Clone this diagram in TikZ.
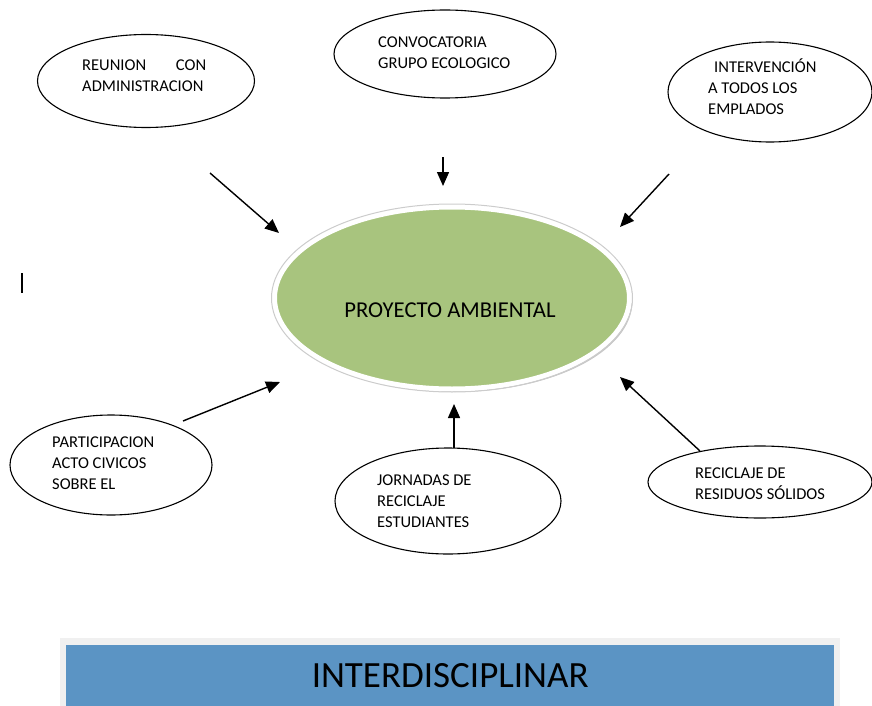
\documentclass[tikz,border=0pt]{standalone}
\usepackage{fontspec}
\setmainfont{Carlito}
\usetikzlibrary{shapes,shadows,arrows.meta}

\definecolor{verdeproy}{HTML}{A8C47E}
\definecolor{azulbarra}{HTML}{5B94C4}
\definecolor{grisbarra}{HTML}{F0F0F0}

\tikzset{
  burbuja/.style={draw, ellipse, line width=1.1pt, inner sep=0pt},
  texto/.style={anchor=north west, inner sep=0pt, align=left, font=\fontsize{16.5}{21}\selectfont},
  flecha/.style={line width=1.4pt, -{Triangle[length=14pt,width=12pt]}}
}

\begin{document}
\begin{tikzpicture}[x=1pt,y=-1pt]
    \useasboundingbox (0,0) rectangle (872,706);

    % ideas de arriba
    \node[burbuja, minimum width=217pt, minimum height=93pt] (reunion) at (146,81) {};
    \node[texto] (treunion) at (82,60) {\hbox to 124pt{REUNION\hfill CON}\\ADMINISTRACION};

    \node[burbuja, minimum width=222pt, minimum height=88pt] (convocatoria) at (445,54) {};
    \node[texto] (tconvocatoria) at (378,37) {CONVOCATORIA\\GRUPO ECOLOGICO};

    \node[burbuja, minimum width=204pt, minimum height=100pt] (intervencion) at (770,92) {};
    \node[texto] (tintervencion) at (708,59) {\hspace*{6pt}INTERVENCIÓN\\A TODOS LOS\\EMPLADOS};

    % centro
    \node[ellipse, fill=verdeproy, draw=white, line width=5pt, minimum width=355pt, minimum height=182pt,
          drop shadow={shadow xshift=3pt, shadow yshift=-3pt, opacity=0.45}] (proyecto) at (452,298) {};
    \draw[gray!40, line width=1pt] (proyecto.center) ellipse (180.5 and 94);
    \node[font=\fontsize{22.7}{27}\selectfont, inner sep=0pt] (tproyecto) at (450,310) {PROYECTO AMBIENTAL};

    % ideas de abajo
    \node[burbuja, minimum width=202pt, minimum height=100pt] (participacion) at (111,465) {};
    \node[texto] (tparticipacion) at (52,437) {PARTICIPACION\\ACTO CIVICOS\\SOBRE EL};

    \node[burbuja, minimum width=226pt, minimum height=106pt] (jornadas) at (448,501) {};
    \node[texto] (tjornadas) at (377,475) {JORNADAS DE\\RECICLAJE\\ESTUDIANTES};

    \node[burbuja, minimum width=224pt, minimum height=72pt] (reciclaje) at (760,482) {};
    \node[texto] (treciclaje) at (695,468) {RECICLAJE DE\\RESIDUOS SÓLIDOS};

    % flechas
    \coordinate (a1) at (210,173);  \coordinate (p1) at (279,233);
    \coordinate (a2) at (443,157);  \coordinate (p2) at (443,186);
    \coordinate (a3) at (669,174);  \coordinate (p3) at (620,227);
    \coordinate (a4) at (183,421);  \coordinate (p4) at (280,382);
    \coordinate (a5) at (454,448);  \coordinate (p5) at (454,404);
    \coordinate (a6) at (700,451);  \coordinate (p6) at (620,377);
    \foreach \i in {1,...,6}
        \draw[flecha] (a\i) -- (p\i);

    \draw[line width=1.5pt] (22,273) -- (22,293);

    % barra inferior
    \fill[grisbarra] (60,638) rectangle (840,706);
    \node[fill=azulbarra, anchor=north west, inner sep=0pt, minimum width=768pt, minimum height=61pt,
          font=\fontsize{37}{40}\selectfont] (banner) at (66,645) {INTERDISCIPLINAR};
\end{tikzpicture}
\end{document}
